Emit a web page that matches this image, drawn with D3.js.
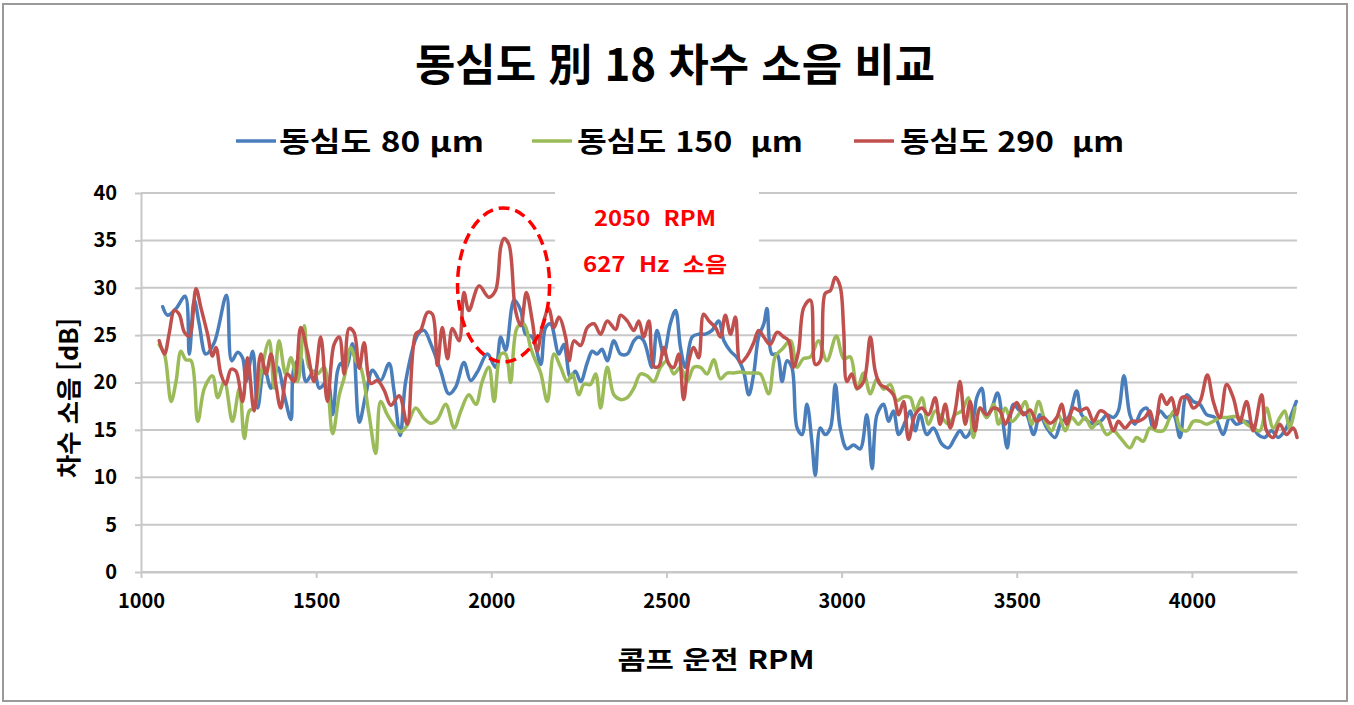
<!DOCTYPE html>
<html lang="ko">
<head>
<meta charset="utf-8">
<script src="https://cdn.jsdelivr.net/npm/d3@7"></script>
<style>
  html, body { margin: 0; padding: 0; background: #fff; }
  svg text { font-family: "Noto Sans CJK KR", "Noto Sans", sans-serif; font-weight: 700; white-space: pre; }
</style>
</head>
<body>
<svg id="chart" width="1354" height="705"></svg>
<script>
// ---- chart text ----
const titleText = "동심도 別 18 차수 소음 비교";
const xTitle = "콤프 운전 RPM";
const yTitle = "차수 소음 [dB]";
const seriesNames = ["동심도 80 µm", "동심도 150  µm", "동심도 290  µm"];
const seriesColors = ["#4a7ebb", "#9bbb59", "#c0504d"];
const xTicks = [1000, 1500, 2000, 2500, 3000, 3500, 4000];
const yTicks = [0, 5, 10, 15, 20, 25, 30, 35, 40];
const noteLines = ["2050  RPM", "627  Hz  소음"];
const notePeak = [2035, 30.3]; // centre of the circled resonance (RPM, dB)

// ---- measured order-18 noise, 동심도 80 µm ----
const rpm80 = [1062,1076,1100,1126,1138,1152,1166,1185,1209,1244,1259,1276,1290,1300,1319,1333,1352,1371,1390,1409,1428,1437,1456,1471,1494,1509,1532,1547,1561,1570,1585,1604,1623,1642,1661,1684,1708,1722,1740,1756,1791,1808,1827,1855,1879,1898,1922,1941,1960,1989,2012,2027,2041,2065,2084,2098,2117,2141,2155,2169,2193,2207,2226,2240,2255,2274,2288,2302,2316,2331,2350,2369,2388,2407,2421,2435,2459,2473,2492,2511,2526,2540,2554,2573,2592,2611,2630,2649,2664,2683,2702,2720,2735,2749,2763,2778,2787,2801,2816,2830,2844,2858,2873,2887,2901,2915,2925,2939,2953,2968,2982,2996,3015,3034,3053,3072,3087,3101,3120,3134,3148,3163,3182,3196,3210,3224,3243,3262,3286,3305,3324,3338,3353,3372,3386,3400,3414,3429,3445,3460,3473,3490,3509,3528,3548,3566,3586,3609,3628,3647,3671,3685,3704,3723,3742,3757,3776,3790,3806,3823,3837,3856,3871,3890,3909,3928,3947,3966,3985,4004,4023,4042,4066,4089,4108,4127,4151,4170,4189,4208,4227,4246,4265,4284,4298];
const db80 = [28.0,27.1,27.8,29.1,23.0,28.7,26.2,23.0,24.2,29.2,22.3,23.2,22.6,20.1,23.3,17.3,21.6,19.4,21.6,18.7,16.1,21.6,22.6,20.1,21.2,19.4,20.1,16.6,21.2,22.0,21.5,24.1,15.8,18.8,21.3,20.2,22.0,19.2,14.4,20.2,25.1,25.5,24.1,21.3,18.8,19.5,22.1,20.2,21.1,23.0,21.6,24.8,23.4,28.7,27.6,25.1,24.8,21.9,25.8,26.2,23.0,24.0,20.5,21.2,20.1,22.1,23.3,23.0,23.5,22.3,24.4,23.0,23.0,24.4,24.8,24.4,21.6,25.5,23.0,26.2,27.6,23.7,21.6,24.8,25.1,25.1,25.5,26.5,24.4,23.3,22.6,21.2,18.7,20.9,24.8,26.2,27.8,23.0,23.0,20.1,22.3,21.6,15.2,14.5,17.7,13.8,10.2,15.2,14.5,15.2,19.8,15.2,13.0,13.4,13.0,16.6,10.9,16.6,17.7,15.9,17.0,14.5,15.9,17.0,14.9,16.6,14.5,15.2,13.5,13.1,14.2,14.9,14.2,15.2,18.4,19.4,16.3,17.3,18.9,15.9,13.1,17.7,17.0,16.6,14.5,16.6,15.2,14.2,15.9,16.3,19.1,16.6,15.9,15.6,16.0,16.6,16.3,17.0,20.7,16.6,15.6,17.0,17.3,15.2,17.0,16.3,16.6,14.2,18.7,18.0,17.7,16.6,16.3,14.5,16.3,15.6,15.9,15.6,14.5,14.2,14.9,14.2,14.9,16.6,18.0];

// ---- 동심도 150 µm ----
const rpm150 = [1052,1067,1086,1100,1114,1128,1143,1162,1181,1204,1219,1238,1261,1281,1295,1309,1323,1342,1366,1380,1394,1413,1428,1447,1466,1480,1504,1523,1547,1566,1580,1599,1613,1627,1651,1670,1684,1703,1722,1741,1760,1784,1808,1827,1846,1870,1894,1913,1936,1956,1974,1993,2008,2027,2041,2055,2074,2093,2112,2126,2141,2160,2179,2198,2217,2231,2250,2264,2283,2298,2312,2331,2350,2369,2388,2407,2426,2445,2464,2483,2502,2521,2540,2559,2578,2597,2616,2635,2654,2673,2692,2711,2730,2749,2768,2792,2811,2830,2854,2873,2890,2911,2934,2958,2985,3006,3025,3044,3063,3082,3101,3120,3139,3158,3177,3196,3210,3229,3248,3267,3286,3305,3324,3343,3362,3376,3395,3414,3434,3448,3467,3486,3505,3524,3543,3562,3581,3600,3619,3638,3657,3676,3695,3714,3733,3757,3776,3795,3823,3842,3861,3880,3899,3918,3937,3951,3966,3985,4004,4023,4042,4061,4080,4099,4118,4137,4156,4175,4194,4213,4232,4251,4265,4279,4294];
const db150 = [24.0,23.0,18.0,20.1,23.3,22.4,22.3,15.9,19.4,20.7,18.4,20.1,15.9,19.4,14.1,17.0,17.3,20.9,24.4,19.4,24.4,20.9,22.6,20.1,26.0,21.6,20.9,21.6,14.6,18.7,20.5,23.7,22.3,21.6,16.6,12.5,18.0,16.6,15.5,14.8,15.5,17.3,16.2,15.7,16.1,17.7,15.2,17.0,18.7,17.7,20.1,21.6,18.0,23.0,23.0,20.0,25.8,26.2,23.7,22.3,21.0,18.0,23.0,21.6,20.1,20.9,18.7,19.8,19.8,20.9,17.3,21.6,18.7,18.2,18.4,19.4,20.9,20.7,20.1,21.6,22.3,20.9,21.6,20.1,21.6,21.6,20.9,22.4,20.4,21.0,21.0,21.1,21.0,21.0,20.9,18.8,22.8,23.5,24.4,21.6,22.5,22.7,24.4,22.3,24.9,22.5,22.7,19.3,21.0,18.8,20.4,19.3,19.8,18.1,18.5,18.4,17.0,18.4,15.6,17.0,16.3,15.6,16.6,17.0,18.4,14.2,17.3,16.3,17.7,15.6,17.3,15.9,16.6,18.0,15.6,18.0,15.9,14.9,16.6,14.9,16.3,15.6,16.3,15.2,15.9,14.5,14.9,14.2,13.1,14.2,13.8,15.2,14.9,14.9,16.3,17.1,15.2,14.9,15.9,15.9,15.6,15.9,16.3,16.3,16.4,16.3,15.6,15.2,14.9,17.3,15.2,16.3,17.0,15.2,17.3];

// ---- 동심도 290 µm ----
const rpm290 = [1052,1067,1081,1095,1109,1124,1138,1157,1171,1190,1204,1214,1228,1242,1257,1271,1290,1304,1323,1342,1357,1371,1385,1399,1418,1437,1456,1475,1494,1513,1532,1551,1566,1580,1594,1608,1623,1637,1656,1675,1694,1713,1737,1760,1784,1798,1818,1832,1846,1860,1875,1889,1908,1922,1936,1965,1993,2012,2027,2036,2050,2069,2084,2100,2117,2131,2145,2164,2179,2193,2212,2222,2236,2255,2274,2293,2312,2331,2355,2369,2388,2407,2421,2435,2450,2464,2478,2492,2507,2521,2535,2549,2564,2578,2592,2606,2621,2640,2654,2668,2683,2697,2711,2730,2749,2763,2778,2796,2816,2835,2849,2863,2877,2892,2911,2925,2939,2953,2968,2982,2996,3006,3015,3029,3044,3063,3082,3096,3110,3129,3148,3163,3177,3191,3210,3229,3248,3267,3281,3296,3310,3324,3338,3353,3367,3381,3395,3414,3434,3452,3467,3481,3500,3519,3538,3557,3576,3595,3614,3628,3643,3662,3681,3700,3719,3738,3757,3776,3790,3809,3828,3847,3866,3880,3894,3913,3928,3942,3956,3971,3987,4004,4023,4044,4061,4080,4099,4118,4137,4156,4175,4199,4213,4232,4251,4270,4289,4300];
const db290 = [24.4,23.0,25.3,27.6,27.2,25.3,24.9,29.9,27.9,25.1,22.8,23.7,20.9,19.8,21.4,21.2,18.0,22.6,17.0,23.0,20.9,23.0,19.8,17.3,20.9,20.1,25.8,23.3,20.1,24.8,18.0,24.0,24.8,20.9,25.7,25.3,21.5,24.2,19.9,20.2,19.2,17.6,18.6,15.6,25.1,25.5,27.4,27.2,21.8,25.8,22.5,25.7,24.4,29.5,27.6,30.2,29.0,29.7,34.3,35.2,34.6,27.6,26.0,29.5,26.5,23.3,25.8,27.8,25.8,26.9,24.8,22.3,24.4,23.9,25.8,26.2,25.1,26.5,25.6,27.1,26.5,25.5,26.5,24.8,26.5,21.7,21.7,23.7,21.9,21.6,23.0,18.2,22.3,23.7,22.6,27.2,26.5,25.8,24.8,27.1,25.1,26.9,22.1,22.8,24.2,25.5,24.8,24.0,25.3,24.8,24.4,21.6,23.3,27.9,28.7,21.9,22.3,29.4,29.7,31.1,30.1,25.5,20.1,20.9,19.4,20.1,24.8,21.2,19.8,19.4,18.7,16.6,18.0,14.0,16.6,17.3,16.6,18.4,15.6,17.7,15.2,17.0,20.1,15.6,18.0,14.9,17.3,16.6,17.3,17.0,15.6,16.6,17.9,16.6,17.1,15.9,16.3,15.7,16.3,17.7,15.6,17.3,17.0,17.3,15.9,17.0,16.6,14.9,15.9,15.2,15.9,15.9,16.3,17.0,15.2,18.7,17.7,18.4,16.6,18.4,18.4,17.3,18.0,20.8,18.0,16.3,19.8,18.4,15.9,18.0,14.9,18.7,14.9,14.2,15.6,14.5,15.2,14.2];

const rpmSets = [rpm80, rpm150, rpm290];
const dbSets = [db80, db150, db290];

// ---- drawing ----
const svg = d3.select("#chart");

// outer chart frame
svg.append("rect").attr("x", 3).attr("y", 4).attr("width", 1344).attr("height", 697)
  .attr("fill", "#fff").attr("stroke", "#9a9a9a").attr("stroke-width", 2);

const x = d3.scaleLinear().domain([1000, 4300]).range([141, 1297]);
const y = d3.scaleLinear().domain([0, 40]).range([572, 193]);

// horizontal gridlines
svg.append("g").selectAll("line").data(yTicks).join("line")
  .attr("x1", x(1000)).attr("x2", x(4300))
  .attr("y1", d => y(d)).attr("y2", d => y(d))
  .attr("stroke", "#c8c8c8").attr("stroke-width", 2);

// y axis
const yAxis = svg.append("g").attr("transform", `translate(${x(1000)},0)`)
  .call(d3.axisLeft(y).tickValues(yTicks).tickSize(6).tickSizeOuter(0));
yAxis.select(".domain").attr("stroke", "#c8c8c8").attr("stroke-width", 2);
yAxis.selectAll(".tick line").attr("stroke", "#c8c8c8").attr("stroke-width", 2);
yAxis.selectAll(".tick text").attr("x", -24).attr("font-size", 20).attr("fill", "#000")
  .style("font-family", '"Noto Sans CJK KR", sans-serif').style("font-weight", 700);

// x axis
const xAxis = svg.append("g").attr("transform", `translate(0,${y(0)})`)
  .call(d3.axisBottom(x).tickValues(xTicks).tickSize(6).tickSizeOuter(0).tickFormat(d3.format("d")));
xAxis.select(".domain").attr("stroke", "#c8c8c8").attr("stroke-width", 2);
xAxis.selectAll(".tick line").attr("stroke", "#c8c8c8").attr("stroke-width", 2);
xAxis.selectAll(".tick text").attr("y", 22).attr("font-size", 20).attr("fill", "#000")
  .style("font-family", '"Noto Sans CJK KR", sans-serif').style("font-weight", 700);

// white label box for the annotation
svg.append("rect").attr("x", 555).attr("y", 183).attr("width", 204).attr("height", 110).attr("fill", "#fff");

// series
const line = d3.line().curve(d3.curveCatmullRom.alpha(0.5));
rpmSets.forEach((rpms, i) => {
  const pts = rpms.map((r, k) => [x(r), y(dbSets[i][k])]);
  svg.append("path").attr("d", line(pts)).attr("fill", "none")
    .attr("stroke", seriesColors[i]).attr("stroke-width", 3.5)
    .attr("stroke-linejoin", "round").attr("stroke-linecap", "round");
});

// annotation: dashed ellipse round the peak and its label
svg.append("ellipse").attr("cx", x(notePeak[0])).attr("cy", y(notePeak[1]))
  .attr("rx", 46).attr("ry", 77).attr("fill", "none")
  .attr("stroke", "#ff0000").attr("stroke-width", 3.5).attr("stroke-dasharray", "11,6");
svg.append("text").attr("x", 655).attr("y", 226).attr("text-anchor", "middle")
  .attr("font-size", 21).attr("fill", "#ff0000")
  .attr("textLength", 122).attr("lengthAdjust", "spacingAndGlyphs").text(noteLines[0]);
svg.append("text").attr("x", 655).attr("y", 272).attr("text-anchor", "middle")
  .attr("font-size", 21).attr("fill", "#ff0000")
  .attr("textLength", 144).attr("lengthAdjust", "spacingAndGlyphs").text(noteLines[1]);

// title
svg.append("text").attr("x", 675).attr("y", 81).attr("text-anchor", "middle")
  .attr("font-size", 44).attr("fill", "#000")
  .attr("textLength", 520).attr("lengthAdjust", "spacingAndGlyphs").text(titleText);

// legend
const legendItems = [
  { lx: 236, tx: 279, tw: 205 },
  { lx: 532, tx: 577, tw: 226 },
  { lx: 854, tx: 900, tw: 224 }
];
legendItems.forEach((it, i) => {
  svg.append("line").attr("x1", it.lx).attr("x2", it.lx + 40).attr("y1", 141).attr("y2", 141)
    .attr("stroke", seriesColors[i]).attr("stroke-width", 3.5);
  svg.append("text").attr("x", it.tx).attr("y", 152).attr("font-size", 28).attr("fill", "#000")
    .attr("textLength", it.tw).attr("lengthAdjust", "spacingAndGlyphs").text(seriesNames[i]);
});

// axis titles
svg.append("text").attr("x", 716).attr("y", 669).attr("text-anchor", "middle")
  .attr("font-size", 25).attr("fill", "#000")
  .attr("textLength", 197).attr("lengthAdjust", "spacingAndGlyphs").text(xTitle);
svg.append("text").attr("transform", "translate(78,398) rotate(-90)").attr("text-anchor", "middle")
  .attr("font-size", 25).attr("fill", "#000")
  .attr("textLength", 160).attr("lengthAdjust", "spacingAndGlyphs").text(yTitle);
</script>
</body>
</html>
